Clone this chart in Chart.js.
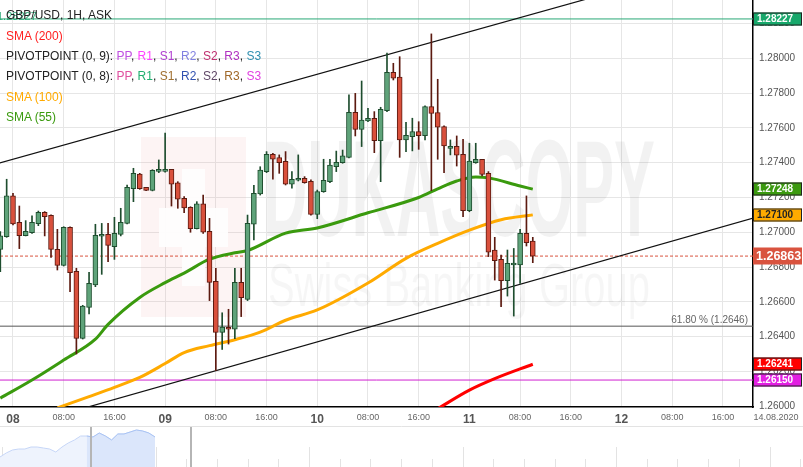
<!DOCTYPE html>
<html>
<head>
<meta charset="utf-8">
<script src="https://cdn.jsdelivr.net/npm/chart.js@4.4.0/dist/chart.umd.min.js"></script>
<style>
body { margin: 0; background: #fff; }
#wrap { position: relative; width: 803px; height: 467px; overflow: hidden; font-family: "Liberation Sans", Arial, sans-serif; }
#main { position: absolute; left: 0; top: 0; }
#nav { position: absolute; left: 0; top: 426px; }
.lg { position: absolute; left: 6px; font-size: 12px; line-height: 14px; white-space: nowrap; color: #222; }
</style>
</head>
<body>
<div id="wrap">
  <canvas id="main" width="803" height="467"></canvas>
  <canvas id="nav" width="803" height="41"></canvas>
  <div class="lg" style="top:9px;left:-3px;font-size:11px;color:#2aa876">1.28227</div>
  <div class="lg" style="top:8px">GBP/USD, 1H, ASK</div>
  <div class="lg" style="top:29px;color:#ff2020">SMA (200)</div>
  <div class="lg" style="top:49px">PIVOTPOINT (0, 9): <span style="color:#c050e0">PP</span>, <span style="color:#ff40ff">R1</span>, <span style="color:#b040d0">S1</span>, <span style="color:#8080e0">R2</span>, <span style="color:#c03070">S2</span>, <span style="color:#b030c0">R3</span>, <span style="color:#3090b0">S3</span></div>
  <div class="lg" style="top:69px">PIVOTPOINT (0, 8): <span style="color:#e050a0">PP</span>, <span style="color:#20b070">R1</span>, <span style="color:#a07030">S1</span>, <span style="color:#3050b0">R2</span>, <span style="color:#604868">S2</span>, <span style="color:#a06828">R3</span>, <span style="color:#e040e0">S3</span></div>
  <div class="lg" style="top:90px;color:#ffaa00">SMA (100)</div>
  <div class="lg" style="top:110px;color:#3a9a0e">SMA (55)</div>
</div>
<script>
// hourly candles, hour 0 = 08 00:00
const hours = [-2,-1,0,1,2,3,4,5,6,7,8,9,10,11,12,13,14,15,16,17,18,19,20,21,22,23,24,25,26,27,28,29,30,31,32,33,34,35,36,37,38,39,40,41,42,43,44,45,46,47,48,49,50,51,52,53,54,55,56,57,58,59,60,61,62,63,64,65,66,67,68,69,70,71,72,73,74,75,76,77,78,79,80,81,82];
const opens = [1.26902,1.26975,1.27209,1.27057,1.26981,1.26998,1.27050,1.27115,1.27098,1.26902,1.26810,1.27028,1.26775,1.26390,1.26568,1.26697,1.26977,1.26988,1.26917,1.26988,1.27051,1.27251,1.27335,1.27259,1.27241,1.27350,1.27350,1.27362,1.27284,1.27195,1.27144,1.27021,1.27163,1.27005,1.26718,1.26424,1.26453,1.26442,1.26712,1.26614,1.27046,1.27220,1.27349,1.27448,1.27429,1.27408,1.27276,1.27299,1.27310,1.27293,1.27103,1.27234,1.27291,1.27377,1.27401,1.27431,1.27690,1.27592,1.27640,1.27656,1.27527,1.27700,1.27920,1.27892,1.27531,1.27550,1.27579,1.27556,1.27723,1.27688,1.27608,1.27483,1.27494,1.27448,1.27124,1.27401,1.27420,1.27339,1.26898,1.26844,1.26722,1.26812,1.26812,1.26994,1.26950];
const highs = [1.27004,1.27305,1.27224,1.27151,1.27067,1.27094,1.27122,1.27119,1.27101,1.27017,1.27032,1.27032,1.26793,1.26580,1.26770,1.27046,1.27051,1.27051,1.27086,1.27138,1.27272,1.27368,1.27339,1.27259,1.27360,1.27416,1.27571,1.27362,1.27291,1.27205,1.27147,1.27176,1.27214,1.27080,1.26793,1.26537,1.26557,1.26793,1.26793,1.27099,1.27270,1.27377,1.27464,1.27454,1.27445,1.27464,1.27349,1.27445,1.27320,1.27301,1.27243,1.27420,1.27420,1.27467,1.27473,1.27790,1.27799,1.27870,1.27713,1.27694,1.27719,1.28030,1.27972,1.28010,1.27633,1.27656,1.27636,1.27727,1.28141,1.27880,1.27612,1.27531,1.27554,1.27535,1.27512,1.27512,1.27420,1.27349,1.26971,1.26869,1.26898,1.26907,1.27017,1.27209,1.26971];
const lows = [1.26773,1.26971,1.27042,1.26906,1.26979,1.26994,1.27038,1.26979,1.26856,1.26783,1.26806,1.26658,1.26300,1.26386,1.26530,1.26687,1.26758,1.26831,1.26844,1.26979,1.27048,1.27176,1.27247,1.27239,1.27238,1.27343,1.27345,1.27151,1.27138,1.27113,1.27000,1.27019,1.26994,1.26607,1.26204,1.26326,1.26357,1.26388,1.26515,1.26607,1.26956,1.27214,1.27343,1.27305,1.27339,1.27272,1.27253,1.27295,1.27282,1.27099,1.27078,1.27230,1.27285,1.27349,1.27397,1.27427,1.27554,1.27493,1.27636,1.27458,1.27291,1.27694,1.27876,1.27431,1.27464,1.27468,1.27477,1.27531,1.27239,1.27420,1.27343,1.27445,1.27381,1.27090,1.27118,1.27397,1.27324,1.26860,1.26725,1.26572,1.26633,1.26518,1.26706,1.26921,1.26825];
const closes = [1.26979,1.27209,1.27048,1.26981,1.27005,1.27057,1.27115,1.27090,1.26902,1.26810,1.27028,1.26768,1.26390,1.26576,1.26706,1.26983,1.26988,1.26925,1.26994,1.27057,1.27259,1.27339,1.27251,1.27241,1.27356,1.27362,1.27362,1.27276,1.27190,1.27140,1.27021,1.27163,1.27000,1.26712,1.26424,1.26455,1.26442,1.26712,1.26624,1.27051,1.27224,1.27358,1.27448,1.27420,1.27401,1.27276,1.27305,1.27310,1.27285,1.27103,1.27234,1.27299,1.27387,1.27402,1.27439,1.27690,1.27592,1.27646,1.27656,1.27527,1.27707,1.27920,1.27886,1.27531,1.27558,1.27579,1.27556,1.27723,1.27684,1.27604,1.27496,1.27489,1.27443,1.27124,1.27410,1.27420,1.27333,1.26885,1.26837,1.26722,1.26821,1.26821,1.26994,1.26940,1.26863];

// moving averages, read at a few hours
const sma55Hours = [-2,3,8,13,15,20,24,27,31,35,37,43,48,56,64,67,70,73,75,80,82];
const sma55Values = [1.26046,1.26150,1.26265,1.26385,1.26470,1.26625,1.26710,1.26765,1.26845,1.26882,1.26895,1.26995,1.27025,1.27112,1.27200,1.27250,1.27295,1.27318,1.27313,1.27266,1.27248];
const sma100Hours = [7,12,16,20,24,27,31,35,39,43,48,56,62,67,72,77,82];
const sma100Values = [1.25990,1.26055,1.26108,1.26165,1.26245,1.26308,1.26348,1.26382,1.26426,1.26494,1.26553,1.26708,1.26850,1.26936,1.27012,1.27072,1.27100];
const sma200Hours = [67,72,76,82];
const sma200Values = [1.25985,1.26092,1.26158,1.26241];

// trend channel
const channelUpperHours = [-3, 92];
const channelUpperValues = [1.27390, 1.28357];
const channelLowerHours = [10, 118];
const channelLowerValues = [1.25976, 1.27094];

// horizontal levels
const resistanceLevel = 1.28227;
const fibLevel = 1.2646;
const fibLabel = '61.80 % (1.2646)';
const supportLevel = 1.26150;
const lastPrice = 1.26863;

// price tags on the right axis
const tagValues = [1.28227, 1.27248, 1.27100, 1.26863, 1.26241, 1.26150];
const tagFill = ['#17a86b', '#3b9a0f', '#ffab00', '#d9533f', '#ff0000', '#e21fe2'];
const tagInk = ['#fff', '#fff', '#222', '#fff', '#fff', '#fff'];

// axis labels
const dayLabels = ['08', '09', '10', '11', '12'];
const timeLabels = ['08:00', '16:00'];
const endDateLabel = '14.08.2020';

// navigator overview
const navValues = [10,14,17,18,18,20,20,19,18,15,20,24,27,31,31,30,34,31,27,33,33,35,37,36,34,30];
const navSelectFrom = 14;

const X_MIN = -2.05, X_MAX = 116.74;
const Y_MIN = 1.25995, Y_MAX = 1.28336;

Chart.defaults.font.family = '"Liberation Sans", Arial, sans-serif';

const isUp = hours.map((h, i) => closes[i] >= opens[i]);
const bodyFill = isUp.map(u => u ? '#5fa37a' : '#d9503c');
const bodyEdge = isUp.map(u => u ? '#1e4d2e' : '#5c1a10');

function pts(xs, ys) {
  return xs.map((x, i) => ({ x: x, y: ys[i] }));
}
function flat(v) {
  return [{ x: X_MIN, y: v }, { x: X_MAX, y: v }];
}

const watermark = {
  id: 'watermark',
  beforeDatasetsDraw(chart) {
    const ctx = chart.ctx;
    ctx.save();
    ctx.fillStyle = 'rgba(235,110,110,0.08)';
    ctx.fillRect(141, 137, 105, 180);
    ctx.fillStyle = 'rgba(255,255,255,0.9)';
    ctx.fillRect(182, 169, 23, 39);
    ctx.fillRect(159, 208, 69, 39);
    ctx.fillRect(182, 247, 23, 39);

    ctx.fillStyle = 'rgba(0,0,0,0.05)';
    ctx.font = 'bold 137px "Liberation Sans"';
    ctx.textBaseline = 'alphabetic';
    let w = ctx.measureText('DUKASCOPY').width;
    ctx.save();
    ctx.translate(263, 236);
    ctx.scale(392 / w, 1);
    ctx.fillText('DUKASCOPY', 0, 0);
    ctx.restore();

    ctx.fillStyle = 'rgba(0,0,0,0.035)';
    ctx.font = '62px "Liberation Sans"';
    w = ctx.measureText('Swiss Banking Group').width;
    ctx.save();
    ctx.translate(268, 306);
    ctx.scale(382 / w, 1);
    ctx.fillText('Swiss Banking Group', 0, 0);
    ctx.restore();
    ctx.restore();
  }
};

const overlay = {
  id: 'overlay',
  afterDraw(chart) {
    const ctx = chart.ctx;
    const ys = chart.scales.y;
    const area = chart.chartArea;
    ctx.save();
    // fibonacci label
    ctx.fillStyle = '#666';
    ctx.font = '10px "Liberation Sans"';
    ctx.textAlign = 'right';
    ctx.textBaseline = 'bottom';
    ctx.fillText(fibLabel, area.right - 5, ys.getPixelForValue(fibLevel) - 1);

    // date at the end of time axis
    ctx.textAlign = 'center';
    ctx.textBaseline = 'top';
    ctx.font = '9px "Liberation Sans"';
    ctx.fillStyle = '#666';
    ctx.fillText(endDateLabel, 776, area.bottom + 6);

    // price tags
    tagValues.forEach((v, i) => {
      const y = Math.round(ys.getPixelForValue(v));
      const big = v === lastPrice;
      const h = big ? 17 : 13;
      ctx.fillStyle = tagFill[i];
      ctx.fillRect(area.right, y - h / 2, 49, h);
      if (!big) {
        ctx.strokeStyle = '#222';
        ctx.lineWidth = 1;
        ctx.strokeRect(area.right + 0.5, y - h / 2 + 0.5, 48, h - 1);
      }
      ctx.fillStyle = tagInk[i];
      ctx.font = big ? 'bold 12.5px "Liberation Sans"' : 'bold 10px "Liberation Sans"';
      ctx.textAlign = 'left';
      ctx.textBaseline = 'middle';
      ctx.fillText(v.toFixed(5), area.right + (big ? 3 : 4), y + 0.5);
    });
    ctx.restore();
  }
};

new Chart(document.getElementById('main'), {
  type: 'bar',
  data: {
    datasets: [
      {
        type: 'bar', label: 'bodies', order: 1, grouped: false,
        data: hours.map((h, i) => ({ x: h, y: [opens[i], closes[i]] })),
        backgroundColor: bodyFill, borderColor: bodyEdge, borderWidth: 1,
        borderSkipped: false, barThickness: 5, minBarLength: 2
      },
      {
        type: 'bar', label: 'wicks', order: 2, grouped: false,
        data: hours.map((h, i) => ({ x: h, y: [lows[i], highs[i]] })),
        backgroundColor: bodyEdge, borderWidth: 0, barThickness: 1
      },
      {
        type: 'line', label: 'SMA (55)', order: 5, data: pts(sma55Hours, sma55Values),
        borderColor: '#3a9a0e', borderWidth: 3, pointRadius: 0, cubicInterpolationMode: 'monotone'
      },
      {
        type: 'line', label: 'SMA (100)', order: 6, data: pts(sma100Hours, sma100Values),
        borderColor: '#ffaa00', borderWidth: 3, pointRadius: 0, cubicInterpolationMode: 'monotone'
      },
      {
        type: 'line', label: 'SMA (200)', order: 7, data: pts(sma200Hours, sma200Values),
        borderColor: '#ff0000', borderWidth: 3, pointRadius: 0, cubicInterpolationMode: 'monotone'
      },
      {
        type: 'line', label: 'channel up', order: 8, data: pts(channelUpperHours, channelUpperValues),
        borderColor: '#111', borderWidth: 1.2, pointRadius: 0
      },
      {
        type: 'line', label: 'channel down', order: 8, data: pts(channelLowerHours, channelLowerValues),
        borderColor: '#111', borderWidth: 1.2, pointRadius: 0
      },
      {
        type: 'line', label: 'resistance', order: 9, data: flat(resistanceLevel),
        borderColor: '#2aa876', borderWidth: 1, pointRadius: 0
      },
      {
        type: 'line', label: 'fib', order: 9, data: flat(fibLevel),
        borderColor: '#555', borderWidth: 1, pointRadius: 0
      },
      {
        type: 'line', label: 'support', order: 9, data: flat(supportLevel),
        borderColor: '#d020d0', borderWidth: 1, pointRadius: 0
      },
      {
        type: 'line', label: 'last', order: 9, data: flat(lastPrice),
        borderColor: '#d9533f', borderWidth: 1, borderDash: [3, 2], pointRadius: 0
      }
    ]
  },
  options: {
    responsive: false,
    animation: false,
    layout: { padding: 0 },
    plugins: { legend: { display: false }, tooltip: { enabled: false } },
    scales: {
      x: {
        type: 'linear', min: X_MIN, max: X_MAX, offset: false,
        grid: { color: '#e6e6e6', drawTicks: false, offset: false },
        border: { color: '#000', width: 1.5 },
        ticks: {
          stepSize: 8, includeBounds: false, autoSkip: false, maxRotation: 0, padding: 5,
          color: ctx => ctx.tick && ctx.tick.value % 24 === 0 ? '#555' : '#666',
          font: ctx => ctx.tick && ctx.tick.value % 24 === 0 ? { size: 12, weight: 'bold' } : { size: 9 },
          callback: v => v % 24 === 0 ? dayLabels[v / 24] : timeLabels[(v % 24) / 8 - 1]
        },
        afterFit: s => { s.height = 60; s.paddingLeft = 0; s.paddingRight = 0; }
      },
      y: {
        type: 'linear', position: 'right', min: Y_MIN, max: Y_MAX,
        grid: { color: '#e6e6e6', drawTicks: false },
        border: { color: '#000', width: 1.5 },
        ticks: {
          stepSize: 0.002, includeBounds: false, padding: 6, color: '#555',
          font: { size: 10 },
          callback: v => v.toFixed(5)
        },
        afterFit: s => { s.width = 50; s.paddingTop = 0; s.paddingBottom = 0; }
      }
    }
  },
  plugins: [watermark, overlay]
});

const navDecor = {
  id: 'navDecor',
  beforeDatasetsDraw(chart) {
    const ctx = chart.ctx;
    ctx.save();
    ctx.strokeStyle = '#e3e3e3';
    ctx.lineWidth = 1;
    ctx.beginPath();
    ctx.moveTo(0, 0.5); ctx.lineTo(803, 0.5);
    for (let k = 0; k < 27; k++) {
      const x = Math.round(2 + 30.7 * k) + 0.5;
      ctx.moveTo(x, k % 5 === 0 ? 21 : 33);
      ctx.lineTo(x, 41);
    }
    ctx.stroke();
    ctx.restore();
  },
  afterDraw(chart) {
    const ctx = chart.ctx;
    ctx.save();
    ctx.strokeStyle = '#b5b5b5';
    ctx.lineWidth = 2;
    ctx.beginPath();
    ctx.moveTo(91, 1); ctx.lineTo(91, 41);
    ctx.moveTo(191, 1); ctx.lineTo(191, 41);
    ctx.stroke();
    ctx.restore();
  }
};

new Chart(document.getElementById('nav'), {
  type: 'line',
  data: {
    datasets: [
      {
        data: navValues.map((v, i) => ({ x: i, y: i >= navSelectFrom ? v : null })),
        borderColor: '#a9c3f3', borderWidth: 1, backgroundColor: '#dbe6fb', fill: 'origin', pointRadius: 0
      },
      {
        data: navValues.map((v, i) => ({ x: i, y: v })),
        borderColor: '#c6d6f7', borderWidth: 1, backgroundColor: '#eef3fd', fill: 'origin', pointRadius: 0
      }
    ]
  },
  options: {
    responsive: false,
    animation: false,
    layout: { padding: 0 },
    plugins: { legend: { display: false }, tooltip: { enabled: false } },
    scales: {
      x: { type: 'linear', min: 0, max: 129.5, display: false },
      y: { min: 0, max: 41, display: false }
    }
  },
  plugins: [navDecor]
});
</script>
</body>
</html>
